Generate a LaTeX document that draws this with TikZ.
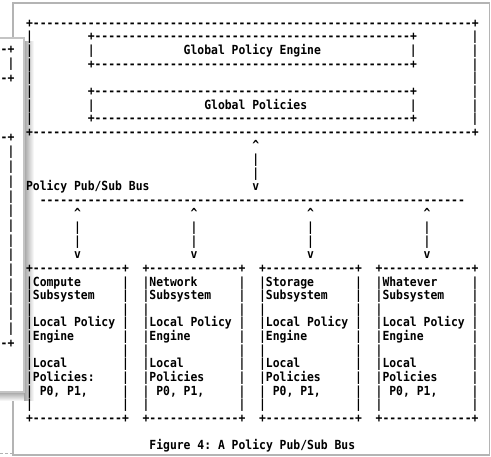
\documentclass[tikz,border=0pt]{standalone}
\usepackage{fontspec}
\usepackage{graphicx}
\setmonofont{DejaVu Sans Mono}
\definecolor{winframe}{HTML}{B4B4B4}
\definecolor{panelframe}{HTML}{C4C4C4}
\tikzset{
  asc/.style={font=\ttfamily\bfseries\fontsize{11.39pt}{13pt}\selectfont\frenchspacing,
              inner sep=0pt, outer sep=0pt, text=black},
  window/.style={draw=winframe, line width=1.5pt, fill=white},
  panel/.style={draw=panelframe, line width=1.2pt, fill=white}
}
% place text piece: name, row, column, text
\newcommand\asc[4]{\node[asc,anchor=base west] (#1) at ({26.07+6.855*(#3)},{27.3+13.62*(#2)}) {\scalebox{1}[1.1]{#4}};}
% overlay window text, right-aligned: name, row, text
\newcommand\ovl[3]{\node[asc,anchor=base east] (#1) at (14.43,{53.1+14.7*(#2)}) {\scalebox{1}[1.1]{#3}};}
\newcommand\dsh[1]{\foreach\i in {1,...,#1}{-}}
\begin{document}
\begin{tikzpicture}[x=1pt,y=-1pt]
\useasboundingbox (0,0) rectangle (491,457);
\fill[white] (0,0) rectangle (491,457);
% main window
\draw[window] (13,3) rectangle (489.3,455);
\draw[gray!60, line width=1pt, dash pattern=on 3pt off 2pt] (0,453.5) -- (12,453.5);
% overlay window with shadow
\shade[left color=black!40, right color=white] (23,42) rectangle (34,401);
\shade[top color=black!40, bottom color=white] (-2,391) rectangle (24,401);
\draw[panel] (-3,38) rectangle (24,392);
\ovl{o0}{0}{-+}
\ovl{o1}{1}{|}
\ovl{o2}{2}{-+}
\ovl{o6}{6}{-+}
\foreach \k in {7,...,19} {\ovl{o\k}{\k}{|}}
\ovl{o20}{20}{-+}
% global box
\asc{r0}{0}{0}{+\dsh{64}+}
\foreach \r in {1,3,5,7} {
  \asc{r\r a}{\r}{0}{|}
  \asc{r\r b}{\r}{9}{+\dsh{46}+}
  \asc{r\r c}{\r}{65}{|}
}
\asc{r2a}{2}{0}{|}
\asc{r2b}{2}{9}{|}
\asc{gpe}{2}{23}{Global Policy Engine}
\asc{r2c}{2}{56}{|}
\asc{r2d}{2}{65}{|}
\asc{r4a}{4}{0}{|}
\asc{r4b}{4}{65}{|}
\asc{r6a}{6}{0}{|}
\asc{r6b}{6}{9}{|}
\asc{gp}{6}{26}{Global Policies}
\asc{r6c}{6}{56}{|}
\asc{r6d}{6}{65}{|}
\asc{r8}{8}{0}{+\dsh{64}+}
% link to bus
\asc{up0}{9}{33}{\textasciicircum}
\asc{st0a}{10}{33}{|}
\asc{st0b}{11}{33}{|}
\asc{dn0}{12}{33}{v}
\asc{bus}{12}{0}{Policy Pub/Sub Bus}
\asc{busline}{13}{2}{\dsh{62}}
% subsystems
\foreach \k/\cc/\nm/\pl in {1/0/Compute/Policies:,2/17/Network/Policies,3/34/Storage/Policies,4/51/Whatever/Policies} {
  \asc{up\k}{14}{\cc+7}{\textasciicircum}
  \asc{sa\k}{15}{\cc+7}{|}
  \asc{sb\k}{16}{\cc+7}{|}
  \asc{dn\k}{17}{\cc+7}{v}
  \asc{b\k top}{18}{\cc}{+\dsh{13}+}
  \foreach \r in {19,...,28} {
    \asc{b\k l\r}{\r}{\cc}{|}
    \asc{b\k r\r}{\r}{\cc+14}{|}
  }
  \asc{b\k t1}{19}{\cc+1}{\nm}
  \asc{b\k t2}{20}{\cc+1}{Subsystem}
  \asc{b\k t3}{22}{\cc+1}{Local Policy}
  \asc{b\k t4}{23}{\cc+1}{Engine}
  \asc{b\k t5}{25}{\cc+1}{Local}
  \asc{b\k t6}{26}{\cc+1}{\pl}
  \asc{b\k t7}{27}{\cc+2}{P0, P1,}
  \asc{b\k bot}{29}{\cc}{+\dsh{13}+}
}
\asc{cap}{31}{18}{Figure 4: A Policy Pub/Sub Bus}
\end{tikzpicture}
\end{document}
